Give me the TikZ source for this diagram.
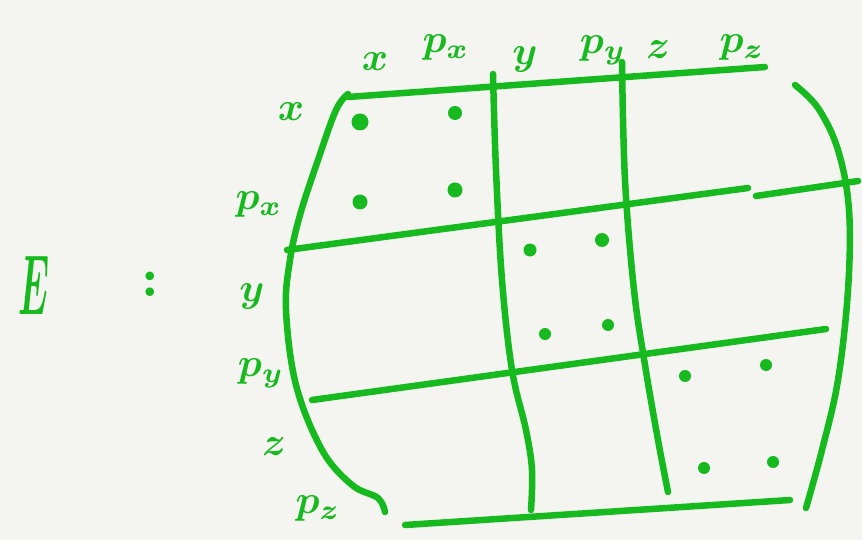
\documentclass[tikz,border=0pt]{standalone}
\usepackage{graphicx}
\usepackage{xcolor}
\definecolor{pen}{RGB}{22,185,30}
\definecolor{paper}{RGB}{244,244,240}
\newcommand{\hw}[2][4.0]{\scalebox{#1}{\boldmath$#2$}}
\begin{document}
\begin{tikzpicture}[x=1pt,y=-1pt,
  stroke/.style={draw=pen,line width=6.5pt,line cap=round,line join=round},
  lbl/.style={text=pen,inner sep=0pt},
  dotmark/.style={fill=pen,draw=none}]
\fill[paper] (0,0) rectangle (862,540);
\useasboundingbox (0,0) rectangle (862,540);
% outer curves
\draw[stroke] plot[smooth,tension=0.6] coordinates {(348,94) (336,110) (318,160) (300,215) (290,260) (286,310) (296,385) (322,450) (352,485) (378,498) (385,512)};
\draw[stroke] plot[smooth,tension=0.6] coordinates {(795,85) (818,108) (838,150) (849,210) (848,290) (838,380) (822,450) (806,508)};
% horizontal lines
\draw[stroke] (348,97) -- (765,67);
\draw[stroke] (287,250) -- (748,188);
\draw[stroke] (756,196) -- (858,181);
\draw[stroke] (312,400) -- (826,329);
\draw[stroke] (405,525) -- (790,500);
% vertical lines
\draw[stroke] plot[smooth,tension=0.6] coordinates {(493,74) (496,170) (502,280) (512,370) (526,430) (532,470) (531,510)};
\draw[stroke] plot[smooth,tension=0.6] coordinates {(622,62) (625,180) (634,290) (645,365) (658,440) (668,492)};
% dots
\foreach \p/\r in {(360,122)/8.5,(455,113)/7,(360,202)/7.5,(455,190)/7.5,
                (530,250)/6.5,(602,240)/7,(545,334)/6,(608,325)/6,
                (685,376)/6,(766,365)/6,(704,468)/6,(773,462)/6}
  \fill[dotmark] \p circle (\r pt);
% top labels
\node[lbl] (tx)  at (375,62) {\hw{x}};
\node[lbl] (tpx) at (446,48) {\hw{p_x}};
\node[lbl] (ty)  at (525,60) {\hw{y}};
\node[lbl] (tpy) at (603,50) {\hw{p_y}};
\node[lbl] (tz)  at (658,50) {\hw{z}};
\node[lbl] (tpz) at (742,48) {\hw{p_z}};
% left labels
\node[lbl] (lx)  at (291,112) {\hw{x}};
\node[lbl] (lpx) at (259,205) {\hw{p_x}};
\node[lbl] (ly)  at (252,296) {\hw{y}};
\node[lbl] (lpy) at (261,373) {\hw{p_y}};
\node[lbl] (lz)  at (274,447) {\hw{z}};
\node[lbl] (lpz) at (318,508) {\hw{p_z}};
% E :
\node[lbl] (E) at (34,285) {\scalebox{3.6}[8.5]{\boldmath$E$}};
\node[lbl] (colon) at (150,284) {\hw[5.5]{:}};
\end{tikzpicture}
\end{document}
